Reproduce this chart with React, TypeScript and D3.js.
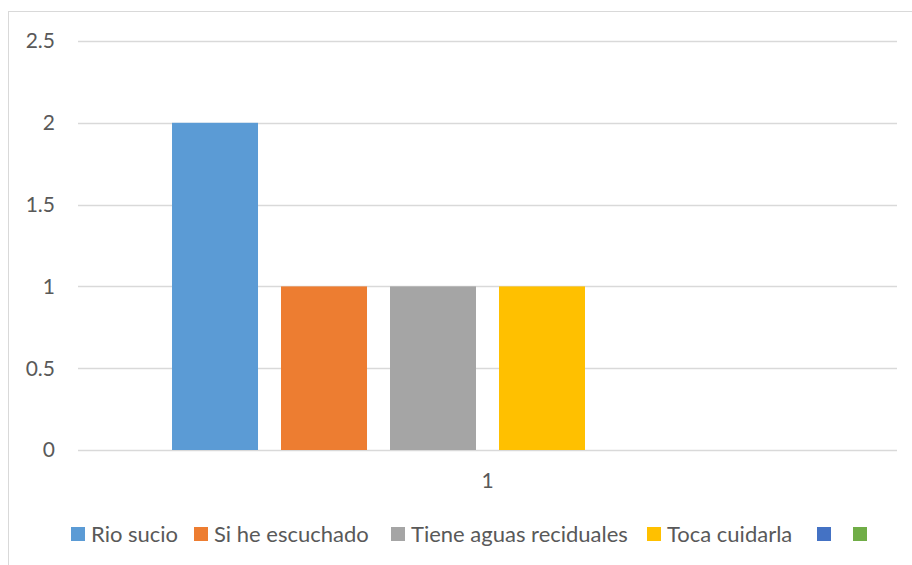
import React from "react";
import * as d3 from "d3";

const categories = ["1"];
const seriesNames = ["Rio sucio", "Si he escuchado", "Tiene aguas reciduales", "Toca cuidarla", "", ""];
const seriesValues = [2, 1, 1, 1, 0, 0];
const seriesColors = ["#5B9BD5", "#ED7D31", "#A5A5A5", "#FFC000", "#4472C4", "#70AD47"];
const yTicks = [0, 0.5, 1, 1.5, 2, 2.5];
const legendX = [71, 194, 391, 647, 817, 853];

const W = 912;
const H = 565;
const FONT = "Lato, 'Open Sans', sans-serif";
const TEXT = "#595959";

export default function App() {
  const left = 78, right = 897, top = 41, bottom = 450;
  const y = d3.scaleLinear().domain([0, 2.5]).range([bottom, top]);
  const x0 = d3.scaleBand<string>().domain(categories).range([left, right]).paddingInner(0).paddingOuter(0.149);
  const x1 = d3
    .scaleBand<number>()
    .domain(seriesValues.map((_, i) => i))
    .range([0, x0.bandwidth()])
    .paddingInner(0.211)
    .paddingOuter(0);

  return (
    <svg width={W} height={H} style={{ position: "absolute", left: 0, top: 0 }}>
      <rect x={0} y={0} width={W} height={H} fill="#fff" />
      <line x1={8} x2={W} y1={11.5} y2={11.5} stroke="#D9D9D9" />
      <line x1={8.5} x2={8.5} y1={11} y2={H} stroke="#D9D9D9" />
      {yTicks.map((t) => (
        <g key={t}>
          <line x1={left} x2={right} y1={Math.round(y(t)) + 0.5} y2={Math.round(y(t)) + 0.5} stroke="#D9D9D9" strokeWidth={1.5} />
          <text x={55} y={y(t)} dy="0.35em" textAnchor="end" fontFamily={FONT} fontSize={21} fill={TEXT}>
            {String(t)}
          </text>
        </g>
      ))}
      {categories.map((c) => (
        <g key={c} transform={`translate(${x0(c)},0)`}>
          {seriesValues.map((v, i) => (
            <rect key={i} x={x1(i)} y={y(v)} width={x1.bandwidth()} height={y(0) - y(v)} fill={seriesColors[i]} />
          ))}
          <text x={x0.bandwidth() / 2} y={481} dy="0.35em" textAnchor="middle" fontFamily={FONT} fontSize={21} fill={TEXT}>
            {c}
          </text>
        </g>
      ))}
      {seriesNames.map((n, i) => (
        <g key={i} transform={`translate(${legendX[i]},527)`}>
          <rect x={0} y={0} width={14} height={14} fill={seriesColors[i]} />
          {n && (
            <text x={20} y={7} dy="0.35em" fontFamily={FONT} fontSize={22} fill={TEXT}>
              {n}
            </text>
          )}
        </g>
      ))}
    </svg>
  );
}
